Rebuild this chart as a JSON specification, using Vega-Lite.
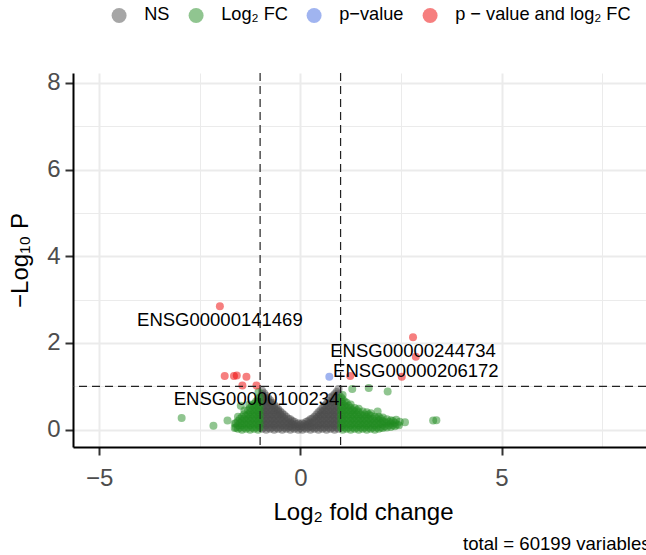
{
  "$schema": "https://vega.github.io/schema/vega-lite/v6.json",
  "width": 573,
  "height": 374,
  "autosize": {"type": "none"},
  "padding": {"left": 73, "top": 73, "right": 0, "bottom": 108},
  "background": "white",
  "config": {"view": {"stroke": null}, "font": "Liberation Sans"},
  "title": {"text": "total = 60199 variables", "orient": "bottom", "anchor": "end", "fontSize": 18.6, "fontWeight": "normal", "color": "black", "font": "Liberation Sans", "dx": 4, "offset": 11},
  "datasets": {
    "pts": [
      {"x":-0.95,"y":0.02,"c":"NS"},{"x":-0.95,"y":0.12,"c":"NS"},{"x":-0.95,"y":0.22,"c":"NS"},{"x":-0.95,"y":0.32,"c":"NS"},{"x":-0.95,"y":0.42,"c":"NS"},{"x":-0.95,"y":0.52,"c":"NS"},{"x":-0.95,"y":0.62,"c":"NS"},{"x":-0.95,"y":0.72,"c":"NS"},{"x":-0.95,"y":0.82,"c":"NS"},{"x":-0.95,"y":0.9,"c":"NS"},
      {"x":-0.9,"y":0.05,"c":"NS"},{"x":-0.9,"y":0.15,"c":"NS"},{"x":-0.9,"y":0.25,"c":"NS"},{"x":-0.9,"y":0.35,"c":"NS"},{"x":-0.9,"y":0.45,"c":"NS"},{"x":-0.9,"y":0.55,"c":"NS"},{"x":-0.9,"y":0.65,"c":"NS"},{"x":-0.9,"y":0.75,"c":"NS"},{"x":-0.9,"y":0.84,"c":"NS"},
      {"x":-0.85,"y":0,"c":"NS"},{"x":-0.85,"y":0.1,"c":"NS"},{"x":-0.85,"y":0.2,"c":"NS"},{"x":-0.85,"y":0.3,"c":"NS"},{"x":-0.85,"y":0.4,"c":"NS"},{"x":-0.85,"y":0.5,"c":"NS"},{"x":-0.85,"y":0.6,"c":"NS"},{"x":-0.85,"y":0.7,"c":"NS"},{"x":-0.85,"y":0.78,"c":"NS"},
      {"x":-0.8,"y":0.05,"c":"NS"},{"x":-0.8,"y":0.15,"c":"NS"},{"x":-0.8,"y":0.25,"c":"NS"},{"x":-0.8,"y":0.35,"c":"NS"},{"x":-0.8,"y":0.45,"c":"NS"},{"x":-0.8,"y":0.55,"c":"NS"},{"x":-0.8,"y":0.65,"c":"NS"},{"x":-0.8,"y":0.73,"c":"NS"},
      {"x":-0.75,"y":0.02,"c":"NS"},{"x":-0.75,"y":0.12,"c":"NS"},{"x":-0.75,"y":0.22,"c":"NS"},{"x":-0.75,"y":0.32,"c":"NS"},{"x":-0.75,"y":0.42,"c":"NS"},{"x":-0.75,"y":0.52,"c":"NS"},{"x":-0.75,"y":0.62,"c":"NS"},{"x":-0.75,"y":0.68,"c":"NS"},
      {"x":-0.7,"y":0.05,"c":"NS"},{"x":-0.7,"y":0.15,"c":"NS"},{"x":-0.7,"y":0.25,"c":"NS"},{"x":-0.7,"y":0.35,"c":"NS"},{"x":-0.7,"y":0.45,"c":"NS"},{"x":-0.7,"y":0.55,"c":"NS"},{"x":-0.7,"y":0.62,"c":"NS"},
      {"x":-0.65,"y":0,"c":"NS"},{"x":-0.65,"y":0.1,"c":"NS"},{"x":-0.65,"y":0.2,"c":"NS"},{"x":-0.65,"y":0.3,"c":"NS"},{"x":-0.65,"y":0.4,"c":"NS"},{"x":-0.65,"y":0.5,"c":"NS"},{"x":-0.65,"y":0.57,"c":"NS"},
      {"x":-0.6,"y":0.05,"c":"NS"},{"x":-0.6,"y":0.15,"c":"NS"},{"x":-0.6,"y":0.25,"c":"NS"},{"x":-0.6,"y":0.35,"c":"NS"},{"x":-0.6,"y":0.45,"c":"NS"},{"x":-0.6,"y":0.52,"c":"NS"},
      {"x":-0.55,"y":0.02,"c":"NS"},{"x":-0.55,"y":0.12,"c":"NS"},{"x":-0.55,"y":0.22,"c":"NS"},{"x":-0.55,"y":0.32,"c":"NS"},{"x":-0.55,"y":0.42,"c":"NS"},{"x":-0.55,"y":0.47,"c":"NS"},
      {"x":-0.5,"y":0.05,"c":"NS"},{"x":-0.5,"y":0.15,"c":"NS"},{"x":-0.5,"y":0.25,"c":"NS"},{"x":-0.5,"y":0.35,"c":"NS"},{"x":-0.5,"y":0.42,"c":"NS"},
      {"x":-0.45,"y":0,"c":"NS"},{"x":-0.45,"y":0.1,"c":"NS"},{"x":-0.45,"y":0.2,"c":"NS"},{"x":-0.45,"y":0.3,"c":"NS"},{"x":-0.45,"y":0.38,"c":"NS"},
      {"x":-0.4,"y":0.05,"c":"NS"},{"x":-0.4,"y":0.15,"c":"NS"},{"x":-0.4,"y":0.25,"c":"NS"},{"x":-0.4,"y":0.34,"c":"NS"},
      {"x":-0.35,"y":0.02,"c":"NS"},{"x":-0.35,"y":0.1,"c":"NS"},{"x":-0.35,"y":0.2,"c":"NS"},{"x":-0.35,"y":0.3,"c":"NS"},
      {"x":-0.3,"y":0.05,"c":"NS"},{"x":-0.3,"y":0.15,"c":"NS"},{"x":-0.3,"y":0.25,"c":"NS"},
      {"x":-0.25,"y":0,"c":"NS"},{"x":-0.25,"y":0.08,"c":"NS"},{"x":-0.25,"y":0.16,"c":"NS"},{"x":-0.25,"y":0.24,"c":"NS"},
      {"x":-0.2,"y":0.05,"c":"NS"},{"x":-0.2,"y":0.13,"c":"NS"},{"x":-0.2,"y":0.2,"c":"NS"},
      {"x":-0.15,"y":0.02,"c":"NS"},{"x":-0.15,"y":0.1,"c":"NS"},{"x":-0.15,"y":0.18,"c":"NS"},
      {"x":-0.1,"y":0.05,"c":"NS"},{"x":-0.1,"y":0.13,"c":"NS"},
      {"x":-0.05,"y":0,"c":"NS"},{"x":-0.05,"y":0.08,"c":"NS"},{"x":-0.05,"y":0.15,"c":"NS"},
      {"x":0,"y":0.04,"c":"NS"},{"x":0,"y":0.12,"c":"NS"},
      {"x":0.05,"y":0,"c":"NS"},{"x":0.05,"y":0.08,"c":"NS"},{"x":0.05,"y":0.15,"c":"NS"},
      {"x":0.1,"y":0.05,"c":"NS"},{"x":0.1,"y":0.13,"c":"NS"},
      {"x":0.15,"y":0.02,"c":"NS"},{"x":0.15,"y":0.1,"c":"NS"},{"x":0.15,"y":0.18,"c":"NS"},
      {"x":0.2,"y":0.05,"c":"NS"},{"x":0.2,"y":0.13,"c":"NS"},{"x":0.2,"y":0.2,"c":"NS"},
      {"x":0.25,"y":0,"c":"NS"},{"x":0.25,"y":0.08,"c":"NS"},{"x":0.25,"y":0.16,"c":"NS"},{"x":0.25,"y":0.24,"c":"NS"},
      {"x":0.3,"y":0.05,"c":"NS"},{"x":0.3,"y":0.15,"c":"NS"},{"x":0.3,"y":0.26,"c":"NS"},
      {"x":0.35,"y":0.02,"c":"NS"},{"x":0.35,"y":0.1,"c":"NS"},{"x":0.35,"y":0.2,"c":"NS"},{"x":0.35,"y":0.3,"c":"NS"},
      {"x":0.4,"y":0.05,"c":"NS"},{"x":0.4,"y":0.15,"c":"NS"},{"x":0.4,"y":0.25,"c":"NS"},{"x":0.4,"y":0.35,"c":"NS"},
      {"x":0.45,"y":0,"c":"NS"},{"x":0.45,"y":0.1,"c":"NS"},{"x":0.45,"y":0.2,"c":"NS"},{"x":0.45,"y":0.3,"c":"NS"},{"x":0.45,"y":0.4,"c":"NS"},
      {"x":0.5,"y":0.05,"c":"NS"},{"x":0.5,"y":0.15,"c":"NS"},{"x":0.5,"y":0.25,"c":"NS"},{"x":0.5,"y":0.35,"c":"NS"},{"x":0.5,"y":0.44,"c":"NS"},
      {"x":0.55,"y":0.02,"c":"NS"},{"x":0.55,"y":0.12,"c":"NS"},{"x":0.55,"y":0.22,"c":"NS"},{"x":0.55,"y":0.32,"c":"NS"},{"x":0.55,"y":0.42,"c":"NS"},{"x":0.55,"y":0.5,"c":"NS"},
      {"x":0.6,"y":0.05,"c":"NS"},{"x":0.6,"y":0.15,"c":"NS"},{"x":0.6,"y":0.25,"c":"NS"},{"x":0.6,"y":0.35,"c":"NS"},{"x":0.6,"y":0.45,"c":"NS"},{"x":0.6,"y":0.55,"c":"NS"},
      {"x":0.65,"y":0,"c":"NS"},{"x":0.65,"y":0.1,"c":"NS"},{"x":0.65,"y":0.2,"c":"NS"},{"x":0.65,"y":0.3,"c":"NS"},{"x":0.65,"y":0.4,"c":"NS"},{"x":0.65,"y":0.5,"c":"NS"},{"x":0.65,"y":0.6,"c":"NS"},
      {"x":0.7,"y":0.05,"c":"NS"},{"x":0.7,"y":0.15,"c":"NS"},{"x":0.7,"y":0.25,"c":"NS"},{"x":0.7,"y":0.35,"c":"NS"},{"x":0.7,"y":0.45,"c":"NS"},{"x":0.7,"y":0.55,"c":"NS"},{"x":0.7,"y":0.66,"c":"NS"},
      {"x":0.75,"y":0.02,"c":"NS"},{"x":0.75,"y":0.12,"c":"NS"},{"x":0.75,"y":0.22,"c":"NS"},{"x":0.75,"y":0.32,"c":"NS"},{"x":0.75,"y":0.42,"c":"NS"},{"x":0.75,"y":0.52,"c":"NS"},{"x":0.75,"y":0.62,"c":"NS"},{"x":0.75,"y":0.74,"c":"NS"},
      {"x":0.8,"y":0.05,"c":"NS"},{"x":0.8,"y":0.15,"c":"NS"},{"x":0.8,"y":0.25,"c":"NS"},{"x":0.8,"y":0.35,"c":"NS"},{"x":0.8,"y":0.45,"c":"NS"},{"x":0.8,"y":0.55,"c":"NS"},{"x":0.8,"y":0.65,"c":"NS"},{"x":0.8,"y":0.77,"c":"NS"},
      {"x":0.85,"y":0,"c":"NS"},{"x":0.85,"y":0.1,"c":"NS"},{"x":0.85,"y":0.2,"c":"NS"},{"x":0.85,"y":0.3,"c":"NS"},{"x":0.85,"y":0.4,"c":"NS"},{"x":0.85,"y":0.5,"c":"NS"},{"x":0.85,"y":0.6,"c":"NS"},{"x":0.85,"y":0.7,"c":"NS"},{"x":0.85,"y":0.82,"c":"NS"},
      {"x":0.9,"y":0.05,"c":"NS"},{"x":0.9,"y":0.15,"c":"NS"},{"x":0.9,"y":0.25,"c":"NS"},{"x":0.9,"y":0.35,"c":"NS"},{"x":0.9,"y":0.45,"c":"NS"},{"x":0.9,"y":0.55,"c":"NS"},{"x":0.9,"y":0.65,"c":"NS"},{"x":0.9,"y":0.75,"c":"NS"},{"x":0.9,"y":0.87,"c":"NS"},
      {"x":0.95,"y":0.02,"c":"NS"},{"x":0.95,"y":0.12,"c":"NS"},{"x":0.95,"y":0.22,"c":"NS"},{"x":0.95,"y":0.32,"c":"NS"},{"x":0.95,"y":0.42,"c":"NS"},{"x":0.95,"y":0.52,"c":"NS"},{"x":0.95,"y":0.62,"c":"NS"},{"x":0.95,"y":0.72,"c":"NS"},{"x":0.95,"y":0.82,"c":"NS"},{"x":0.95,"y":0.94,"c":"NS"},

      {"x":-1.01,"y":0.05,"c":"Log₂ FC"},{"x":-1.01,"y":0.15,"c":"Log₂ FC"},{"x":-1.01,"y":0.25,"c":"Log₂ FC"},{"x":-1.01,"y":0.35,"c":"Log₂ FC"},{"x":-1.01,"y":0.45,"c":"Log₂ FC"},{"x":-1.01,"y":0.55,"c":"Log₂ FC"},{"x":-1.01,"y":0.65,"c":"Log₂ FC"},{"x":-1.01,"y":0.75,"c":"Log₂ FC"},
      {"x":-1.05,"y":0,"c":"Log₂ FC"},{"x":-1.05,"y":0.1,"c":"Log₂ FC"},{"x":-1.05,"y":0.2,"c":"Log₂ FC"},{"x":-1.05,"y":0.3,"c":"Log₂ FC"},{"x":-1.05,"y":0.4,"c":"Log₂ FC"},{"x":-1.05,"y":0.5,"c":"Log₂ FC"},{"x":-1.05,"y":0.6,"c":"Log₂ FC"},{"x":-1.05,"y":0.7,"c":"Log₂ FC"},{"x":-1.04,"y":0.87,"c":"Log₂ FC"},
      {"x":-1.1,"y":0.05,"c":"Log₂ FC"},{"x":-1.1,"y":0.15,"c":"Log₂ FC"},{"x":-1.1,"y":0.25,"c":"Log₂ FC"},{"x":-1.1,"y":0.35,"c":"Log₂ FC"},{"x":-1.1,"y":0.45,"c":"Log₂ FC"},{"x":-1.1,"y":0.55,"c":"Log₂ FC"},{"x":-1.1,"y":0.65,"c":"Log₂ FC"},
      {"x":-1.15,"y":0.02,"c":"Log₂ FC"},{"x":-1.15,"y":0.12,"c":"Log₂ FC"},{"x":-1.15,"y":0.22,"c":"Log₂ FC"},{"x":-1.15,"y":0.32,"c":"Log₂ FC"},{"x":-1.15,"y":0.42,"c":"Log₂ FC"},{"x":-1.15,"y":0.52,"c":"Log₂ FC"},{"x":-1.15,"y":0.6,"c":"Log₂ FC"},
      {"x":-1.2,"y":0.05,"c":"Log₂ FC"},{"x":-1.2,"y":0.15,"c":"Log₂ FC"},{"x":-1.2,"y":0.25,"c":"Log₂ FC"},{"x":-1.2,"y":0.35,"c":"Log₂ FC"},{"x":-1.2,"y":0.45,"c":"Log₂ FC"},{"x":-1.2,"y":0.55,"c":"Log₂ FC"},
      {"x":-1.25,"y":0,"c":"Log₂ FC"},{"x":-1.25,"y":0.1,"c":"Log₂ FC"},{"x":-1.25,"y":0.2,"c":"Log₂ FC"},{"x":-1.25,"y":0.3,"c":"Log₂ FC"},{"x":-1.25,"y":0.4,"c":"Log₂ FC"},{"x":-1.25,"y":0.5,"c":"Log₂ FC"},{"x":-1.27,"y":0.58,"c":"Log₂ FC"},
      {"x":-1.3,"y":0.05,"c":"Log₂ FC"},{"x":-1.3,"y":0.15,"c":"Log₂ FC"},{"x":-1.3,"y":0.25,"c":"Log₂ FC"},{"x":-1.3,"y":0.35,"c":"Log₂ FC"},{"x":-1.3,"y":0.45,"c":"Log₂ FC"},
      {"x":-1.35,"y":0.02,"c":"Log₂ FC"},{"x":-1.35,"y":0.12,"c":"Log₂ FC"},{"x":-1.35,"y":0.22,"c":"Log₂ FC"},{"x":-1.35,"y":0.32,"c":"Log₂ FC"},{"x":-1.39,"y":0.44,"c":"Log₂ FC"},
      {"x":-1.4,"y":0.05,"c":"Log₂ FC"},{"x":-1.4,"y":0.15,"c":"Log₂ FC"},{"x":-1.4,"y":0.25,"c":"Log₂ FC"},{"x":-1.4,"y":0.35,"c":"Log₂ FC"},
      {"x":-1.45,"y":0,"c":"Log₂ FC"},{"x":-1.45,"y":0.1,"c":"Log₂ FC"},{"x":-1.45,"y":0.2,"c":"Log₂ FC"},{"x":-1.45,"y":0.3,"c":"Log₂ FC"},{"x":-1.48,"y":0.55,"c":"Log₂ FC"},
      {"x":-1.5,"y":0.05,"c":"Log₂ FC"},{"x":-1.5,"y":0.15,"c":"Log₂ FC"},{"x":-1.5,"y":0.25,"c":"Log₂ FC"},
      {"x":-1.55,"y":0.02,"c":"Log₂ FC"},{"x":-1.55,"y":0.1,"c":"Log₂ FC"},{"x":-1.55,"y":0.2,"c":"Log₂ FC"},{"x":-1.55,"y":0.3,"c":"Log₂ FC"},
      {"x":-1.6,"y":0.05,"c":"Log₂ FC"},{"x":-1.6,"y":0.15,"c":"Log₂ FC"},
      {"x":-1.63,"y":0.04,"c":"Log₂ FC"},{"x":-1.63,"y":0.14,"c":"Log₂ FC"},
      {"x":-1.81,"y":0.21,"c":"Log₂ FC"},{"x":-2.16,"y":0.09,"c":"Log₂ FC"},{"x":-2.95,"y":0.27,"c":"Log₂ FC"},

      {"x":1.01,"y":0.05,"c":"Log₂ FC"},{"x":1.01,"y":0.15,"c":"Log₂ FC"},{"x":1.01,"y":0.25,"c":"Log₂ FC"},{"x":1.01,"y":0.35,"c":"Log₂ FC"},{"x":1.01,"y":0.45,"c":"Log₂ FC"},{"x":1.01,"y":0.55,"c":"Log₂ FC"},{"x":1.01,"y":0.65,"c":"Log₂ FC"},{"x":1.01,"y":0.75,"c":"Log₂ FC"},
      {"x":1.05,"y":0,"c":"Log₂ FC"},{"x":1.05,"y":0.1,"c":"Log₂ FC"},{"x":1.05,"y":0.2,"c":"Log₂ FC"},{"x":1.05,"y":0.3,"c":"Log₂ FC"},{"x":1.05,"y":0.4,"c":"Log₂ FC"},{"x":1.05,"y":0.5,"c":"Log₂ FC"},{"x":1.05,"y":0.6,"c":"Log₂ FC"},{"x":1.05,"y":0.7,"c":"Log₂ FC"},{"x":1.05,"y":0.8,"c":"Log₂ FC"},
      {"x":1.1,"y":0.05,"c":"Log₂ FC"},{"x":1.1,"y":0.15,"c":"Log₂ FC"},{"x":1.1,"y":0.25,"c":"Log₂ FC"},{"x":1.1,"y":0.35,"c":"Log₂ FC"},{"x":1.1,"y":0.45,"c":"Log₂ FC"},{"x":1.1,"y":0.55,"c":"Log₂ FC"},{"x":1.1,"y":0.65,"c":"Log₂ FC"},
      {"x":1.15,"y":0.02,"c":"Log₂ FC"},{"x":1.15,"y":0.12,"c":"Log₂ FC"},{"x":1.15,"y":0.22,"c":"Log₂ FC"},{"x":1.15,"y":0.32,"c":"Log₂ FC"},{"x":1.15,"y":0.42,"c":"Log₂ FC"},{"x":1.15,"y":0.52,"c":"Log₂ FC"},{"x":1.15,"y":0.62,"c":"Log₂ FC"},
      {"x":1.2,"y":0.05,"c":"Log₂ FC"},{"x":1.2,"y":0.15,"c":"Log₂ FC"},{"x":1.2,"y":0.25,"c":"Log₂ FC"},{"x":1.2,"y":0.35,"c":"Log₂ FC"},{"x":1.2,"y":0.45,"c":"Log₂ FC"},{"x":1.2,"y":0.55,"c":"Log₂ FC"},
      {"x":1.25,"y":0,"c":"Log₂ FC"},{"x":1.25,"y":0.1,"c":"Log₂ FC"},{"x":1.25,"y":0.2,"c":"Log₂ FC"},{"x":1.25,"y":0.3,"c":"Log₂ FC"},{"x":1.25,"y":0.4,"c":"Log₂ FC"},{"x":1.25,"y":0.5,"c":"Log₂ FC"},{"x":1.25,"y":0.58,"c":"Log₂ FC"},
      {"x":1.3,"y":0.05,"c":"Log₂ FC"},{"x":1.3,"y":0.15,"c":"Log₂ FC"},{"x":1.3,"y":0.25,"c":"Log₂ FC"},{"x":1.3,"y":0.35,"c":"Log₂ FC"},{"x":1.3,"y":0.45,"c":"Log₂ FC"},
      {"x":1.35,"y":0.02,"c":"Log₂ FC"},{"x":1.35,"y":0.12,"c":"Log₂ FC"},{"x":1.35,"y":0.22,"c":"Log₂ FC"},{"x":1.35,"y":0.32,"c":"Log₂ FC"},{"x":1.35,"y":0.42,"c":"Log₂ FC"},{"x":1.35,"y":0.5,"c":"Log₂ FC"},
      {"x":1.4,"y":0.05,"c":"Log₂ FC"},{"x":1.4,"y":0.15,"c":"Log₂ FC"},{"x":1.4,"y":0.25,"c":"Log₂ FC"},{"x":1.4,"y":0.35,"c":"Log₂ FC"},{"x":1.4,"y":0.45,"c":"Log₂ FC"},
      {"x":1.45,"y":0,"c":"Log₂ FC"},{"x":1.45,"y":0.1,"c":"Log₂ FC"},{"x":1.45,"y":0.2,"c":"Log₂ FC"},{"x":1.45,"y":0.3,"c":"Log₂ FC"},{"x":1.45,"y":0.4,"c":"Log₂ FC"},{"x":1.45,"y":0.48,"c":"Log₂ FC"},
      {"x":1.5,"y":0.05,"c":"Log₂ FC"},{"x":1.5,"y":0.15,"c":"Log₂ FC"},{"x":1.5,"y":0.25,"c":"Log₂ FC"},{"x":1.5,"y":0.35,"c":"Log₂ FC"},
      {"x":1.55,"y":0.02,"c":"Log₂ FC"},{"x":1.55,"y":0.12,"c":"Log₂ FC"},{"x":1.55,"y":0.22,"c":"Log₂ FC"},{"x":1.55,"y":0.32,"c":"Log₂ FC"},{"x":1.55,"y":0.42,"c":"Log₂ FC"},
      {"x":1.6,"y":0.05,"c":"Log₂ FC"},{"x":1.6,"y":0.15,"c":"Log₂ FC"},{"x":1.6,"y":0.25,"c":"Log₂ FC"},{"x":1.6,"y":0.35,"c":"Log₂ FC"},
      {"x":1.65,"y":0,"c":"Log₂ FC"},{"x":1.65,"y":0.1,"c":"Log₂ FC"},{"x":1.65,"y":0.2,"c":"Log₂ FC"},{"x":1.65,"y":0.3,"c":"Log₂ FC"},{"x":1.65,"y":0.4,"c":"Log₂ FC"},
      {"x":1.7,"y":0.05,"c":"Log₂ FC"},{"x":1.7,"y":0.15,"c":"Log₂ FC"},{"x":1.7,"y":0.25,"c":"Log₂ FC"},{"x":1.7,"y":0.35,"c":"Log₂ FC"},
      {"x":1.75,"y":0.02,"c":"Log₂ FC"},{"x":1.75,"y":0.12,"c":"Log₂ FC"},{"x":1.75,"y":0.22,"c":"Log₂ FC"},{"x":1.75,"y":0.32,"c":"Log₂ FC"},{"x":1.75,"y":0.38,"c":"Log₂ FC"},
      {"x":1.8,"y":0.05,"c":"Log₂ FC"},{"x":1.8,"y":0.15,"c":"Log₂ FC"},{"x":1.8,"y":0.25,"c":"Log₂ FC"},
      {"x":1.85,"y":0,"c":"Log₂ FC"},{"x":1.85,"y":0.1,"c":"Log₂ FC"},{"x":1.85,"y":0.2,"c":"Log₂ FC"},{"x":1.85,"y":0.3,"c":"Log₂ FC"},
      {"x":1.9,"y":0.05,"c":"Log₂ FC"},{"x":1.9,"y":0.15,"c":"Log₂ FC"},{"x":1.9,"y":0.25,"c":"Log₂ FC"},
      {"x":1.95,"y":0.02,"c":"Log₂ FC"},{"x":1.95,"y":0.12,"c":"Log₂ FC"},{"x":1.95,"y":0.22,"c":"Log₂ FC"},{"x":1.95,"y":0.3,"c":"Log₂ FC"},
      {"x":2.0,"y":0.05,"c":"Log₂ FC"},{"x":2.0,"y":0.15,"c":"Log₂ FC"},{"x":2.0,"y":0.25,"c":"Log₂ FC"},
      {"x":2.05,"y":0.04,"c":"Log₂ FC"},{"x":2.05,"y":0.12,"c":"Log₂ FC"},{"x":2.05,"y":0.2,"c":"Log₂ FC"},{"x":2.05,"y":0.28,"c":"Log₂ FC"},
      {"x":2.1,"y":0.08,"c":"Log₂ FC"},{"x":2.1,"y":0.17,"c":"Log₂ FC"},
      {"x":2.15,"y":0.05,"c":"Log₂ FC"},{"x":2.15,"y":0.14,"c":"Log₂ FC"},{"x":2.15,"y":0.24,"c":"Log₂ FC"},
      {"x":2.2,"y":0.1,"c":"Log₂ FC"},{"x":2.2,"y":0.18,"c":"Log₂ FC"},
      {"x":2.25,"y":0.06,"c":"Log₂ FC"},{"x":2.25,"y":0.14,"c":"Log₂ FC"},{"x":2.25,"y":0.22,"c":"Log₂ FC"},
      {"x":2.3,"y":0.1,"c":"Log₂ FC"},{"x":2.3,"y":0.2,"c":"Log₂ FC"},
      {"x":2.35,"y":0.08,"c":"Log₂ FC"},{"x":2.35,"y":0.16,"c":"Log₂ FC"},{"x":2.38,"y":0.23,"c":"Log₂ FC"},
      {"x":2.4,"y":0.12,"c":"Log₂ FC"},
      {"x":2.45,"y":0.1,"c":"Log₂ FC"},{"x":2.47,"y":0.18,"c":"Log₂ FC"},
      {"x":1.29,"y":0.94,"c":"Log₂ FC"},{"x":1.7,"y":0.96,"c":"Log₂ FC"},{"x":2.17,"y":0.88,"c":"Log₂ FC"},{"x":1.92,"y":0.42,"c":"Log₂ FC"},{"x":2.6,"y":0.17,"c":"Log₂ FC"},{"x":3.3,"y":0.21,"c":"Log₂ FC"},{"x":3.38,"y":0.22,"c":"Log₂ FC"},

      {"x":0.72,"y":1.22,"c":"p−value"},

      {"x":-2.0,"y":2.85,"c":"p − value and log₂ FC","gene":"ENSG00000141469"},
      {"x":-1.88,"y":1.24,"c":"p − value and log₂ FC"},
      {"x":-1.65,"y":1.24,"c":"p − value and log₂ FC"},
      {"x":-1.58,"y":1.25,"c":"p − value and log₂ FC"},
      {"x":-1.34,"y":1.22,"c":"p − value and log₂ FC"},
      {"x":-1.44,"y":1.02,"c":"p − value and log₂ FC"},
      {"x":-1.09,"y":1.02,"c":"p − value and log₂ FC","gene":"ENSG00000100234"},
      {"x":1.24,"y":1.24,"c":"p − value and log₂ FC"},
      {"x":2.52,"y":1.22,"c":"p − value and log₂ FC"},
      {"x":2.87,"y":1.68,"c":"p − value and log₂ FC","gene":"ENSG00000206172"},
      {"x":2.8,"y":2.13,"c":"p − value and log₂ FC","gene":"ENSG00000244734"}
    ],
    "vcut": [{"v": -1}, {"v": 1}],
    "hcut": [{"h": 1}]
  },
  "layer": [
    {
      "data": {"name": "pts"},
      "mark": {"type": "circle", "size": 64, "opacity": 0.5},
      "encoding": {
        "x": {"field": "x", "type": "quantitative",
          "scale": {"domain": [-5.65, 8.59], "nice": false, "zero": false},
          "axis": {
            "title": "Log₂ fold change",
            "values": [-5, -2.5, 0, 2.5, 5, 7.5],
            "labelExpr": "datum.value % 5 === 0 ? datum.label : ''",
            "tickOpacity": {"condition": {"test": "datum.value % 5 !== 0", "value": 0}, "value": 1},
            "gridWidth": {"condition": {"test": "datum.value % 5 !== 0", "value": 1}, "value": 2},
            "gridColor": "#EBEBEB",
            "domainColor": "black", "domainWidth": 2,
            "tickColor": "#333333", "tickWidth": 2, "tickSize": 8,
            "labelFont": "Liberation Sans", "labelFontSize": 24, "labelColor": "#4D4D4D", "labelPadding": 11, "labelFlush": false, "labelOverlap": false,
            "titleFont": "Liberation Sans", "titleFontSize": 24, "titleFontWeight": "normal", "titleColor": "black", "titlePadding": 10, "titleX": 290
          }
        },
        "y": {"field": "y", "type": "quantitative",
          "scale": {"domain": [-0.4, 8.23], "nice": false, "zero": false},
          "axis": {
            "title": "−Log₁₀ P",
            "values": [0, 1, 2, 3, 4, 5, 6, 7, 8],
            "labelExpr": "datum.value % 2 === 0 ? datum.label : ''",
            "tickOpacity": {"condition": {"test": "datum.value % 2 !== 0", "value": 0}, "value": 1},
            "gridWidth": {"condition": {"test": "datum.value % 2 !== 0", "value": 1}, "value": 2},
            "gridColor": "#EBEBEB",
            "domainColor": "black", "domainWidth": 2,
            "tickColor": "#333333", "tickWidth": 2, "tickSize": 8,
            "labelFont": "Liberation Sans", "labelFontSize": 24, "labelColor": "#4D4D4D", "labelPadding": 5, "labelOverlap": false,
            "titleFont": "Liberation Sans", "titleFontSize": 24, "titleFontWeight": "normal", "titleColor": "black", "titlePadding": 14
          }
        },
        "color": {"field": "c", "type": "nominal",
          "scale": {"domain": ["NS", "Log₂ FC", "p−value", "p − value and log₂ FC"], "range": ["#4D4D4D", "#228B22", "#4169E1", "#EE0000"]},
          "legend": {"title": null, "orient": "none", "legendX": 37, "legendY": -67, "direction": "horizontal",
            "symbolType": "circle", "symbolSize": 225, "symbolOpacity": 0.5, "symbolStrokeWidth": 0,
            "labelFont": "Liberation Sans", "labelFontSize": 18.2, "labelColor": "black", "labelOffset": 16, "columnPadding": 17, "labelLimit": 400}
        }
      }
    },
    {
      "data": {"name": "vcut"},
      "mark": {"type": "rule", "strokeDash": [8, 5], "color": "#222222", "strokeWidth": 1.2},
      "encoding": {"x": {"field": "v", "type": "quantitative"}}
    },
    {
      "data": {"name": "hcut"},
      "mark": {"type": "rule", "strokeDash": [8, 5], "color": "#222222", "strokeWidth": 1.2},
      "encoding": {"y": {"field": "h", "type": "quantitative"}}
    },
    {
      "data": {"name": "pts"},
      "transform": [{"filter": "datum.gene"}],
      "mark": {"type": "text", "font": "Liberation Sans", "fontSize": 18.5, "color": "black", "align": "center", "baseline": "middle", "dy": 14},
      "encoding": {
        "x": {"field": "x", "type": "quantitative"},
        "y": {"field": "y", "type": "quantitative"},
        "text": {"field": "gene"}
      }
    }
  ]
}
